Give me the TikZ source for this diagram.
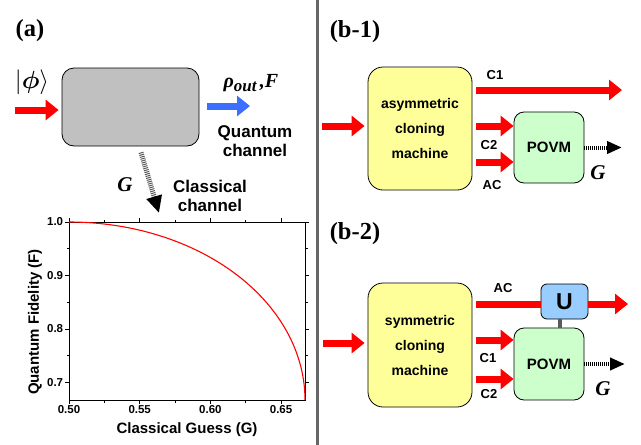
\documentclass[tikz,border=0pt]{standalone}
\usepackage{amsmath}
\usepackage{amssymb}
\usepackage{bm}
\usepackage{fontspec}
\setmainfont{Liberation Serif}
\setsansfont{Liberation Sans}
\usepackage{tikz}
\usetikzlibrary{arrows.meta}
\definecolor{boxGray}{RGB}{192,192,192}
\definecolor{cloneYellow}{RGB}{255,255,153}
\definecolor{povmGreen}{RGB}{204,255,204}
\definecolor{uBlue}{RGB}{153,204,255}
\definecolor{qBlue}{RGB}{60,110,255}
\tikzset{
    x=1pt, y=-1pt, % one unit is one pixel of the figure, y runs down
    styleBlock/.style={draw=black, line width=0.8pt, inner sep=0pt}, % every rounded box
    styleFat/.style={line width=7pt, -{Triangle[length=13pt,width=20pt]}}, % thick coloured arrows
    styleDots/.style={line width=4pt, dash pattern=on 1pt off 1pt, -{Triangle[length=15pt,width=12pt]}}, % classical output
    styleTitle/.style={inner sep=0pt, font=\fontsize{24.5}{26}\selectfont\bfseries}, % panel names
    styleLab/.style={inner sep=0pt, font=\fontsize{13}{15}\selectfont\sffamily\bfseries}, % C1, C2, AC
    styleGuess/.style={inner sep=0pt, font=\fontsize{21}{22}\selectfont\bfseries\itshape}, % G
}
\begin{document}
\begin{tikzpicture}[
        styleTick/.style={inner sep=1.5pt, font=\fontsize{11.5}{13}\selectfont\sffamily\bfseries},
        styleChannel/.style={inner sep=0pt, align=center, font=\fontsize{17}{19.5}\selectfont\sffamily\bfseries},
    ]
    \useasboundingbox (0,0) rectangle (641,445);

    % (a) channel
    \node[styleTitle] (labA) at (30,31) {(a)};
    \node[styleBlock, fill=boxGray, rounded corners=12pt, minimum width=137pt, minimum height=78pt] (channel) at (130.5,107) {};
    \node[inner sep=0pt, font=\fontsize{27}{30}\selectfont] (ket) at (32,82) {$|\bm{\phi}\rangle$};
    \coordinate (ketIn) at (15,110);
    \coordinate (qOut) at (250,106);
    \coordinate (gOut) at (159,213);
    \draw[styleFat, red] (ketIn) -- ([xshift=-3pt,yshift=-3pt]channel.west);
    \draw[styleFat, qBlue] ([xshift=8pt,yshift=1pt]channel.east) -- (qOut);
    \draw[line width=5pt, black!65, dash pattern=on 1pt off 1pt, -{Triangle[length=17pt,width=15pt,color=black]}] ([xshift=10.5pt,yshift=-6pt]channel.south) -- (gOut);
    \node[inner sep=0pt, font=\fontsize{20}{22}\selectfont\bfseries\itshape] (rho) at (251,83) {ρ\raisebox{-4pt}{\fontsize{17}{17}\selectfont out}\,,F};
    \node[styleChannel] (quant) at (255,141) {Quantum\\channel};
    \node[styleChannel] (class) at (210,196) {Classical\\channel};
    \node[styleGuess] (gA) at (125,185) {G};

    % (a) fidelity against guess
    \draw[line width=1pt] (69,222) rectangle (305,400);
    \foreach \g in {0.50,0.55,0.60,0.65} {
        \draw[line width=0.8pt] ({69+(\g-0.5)*1414},400) -- ++(0,4) node[styleTick, below] {\g};
        \draw[line width=0.8pt] ({69+(\g-0.5)*1414},222) -- ++(0,-4);
    }
    \foreach \g in {0.525,0.575,0.625} {
        \draw[line width=0.8pt] ({69+(\g-0.5)*1414},400) -- ++(0,2.5);
        \draw[line width=0.8pt] ({69+(\g-0.5)*1414},222) -- ++(0,-2.5);
    }
    \foreach \f in {1.0,0.9,0.8,0.7} {
        \draw[line width=0.8pt] (69,{222+(1-\f)*535}) -- ++(-4,0) node[styleTick, left] {\f};
        \draw[line width=0.8pt] (305,{222+(1-\f)*535}) -- ++(4,0);
    }
    \foreach \f in {0.95,0.85,0.75} {
        \draw[line width=0.8pt] (69,{222+(1-\f)*535}) -- ++(-2.5,0);
        \draw[line width=0.8pt] (305,{222+(1-\f)*535}) -- ++(2.5,0);
    }
    \draw[red, line width=1.1pt] plot[domain=0:90, samples=90] ({69+236*sin(\x)}, {400-178*cos(\x)});
    \node[inner sep=0pt, font=\fontsize{15}{17}\selectfont\sffamily\bfseries] (xlab) at (187,430) {Classical Guess (G)};
    \node[inner sep=0pt, rotate=90, font=\fontsize{15}{17}\selectfont\sffamily\bfseries] (ylab) at (35,322) {Quantum Fidelity (F)};

    % divider
    \draw[line width=3pt, black!60] (317,0) -- (317,445);

    % (b-1) asymmetric cloner
    \node[styleTitle] (labB1) at (355,32) {(b-1)};
    \node[styleBlock, fill=cloneYellow, rounded corners=15pt, minimum width=104pt, minimum height=123pt,
          align=center, font=\fontsize{14}{25}\selectfont\sffamily\bfseries] (acm) at (420,128.5) {asymmetric\\cloning\\machine};
    \node[styleBlock, fill=povmGreen, rounded corners=10pt, minimum width=70pt, minimum height=71pt,
          font=\fontsize{15}{17}\selectfont\sffamily\bfseries] (povmA) at (549,147.5) {POVM};
    \coordinate (inA) at (322,126);
    \coordinate (c1A) at (622,90);
    \coordinate (guessA) at (622,147.5);
    \draw[styleFat, red] (inA) -- ([xshift=-3pt,yshift=2.5pt]acm.west);
    \draw[styleFat, red] ([xshift=4pt]acm.east |- c1A) -- (c1A);
    \draw[styleFat, red] ([xshift=4pt,yshift=21.5pt]acm.east |- povmA.west) -- ([yshift=21.5pt]povmA.west);
    \draw[styleFat, red] ([xshift=4pt,yshift=-14.5pt]acm.east |- povmA.west) -- ([yshift=-14.5pt]povmA.west);
    \draw[styleDots] (povmA.east) -- (guessA);
    \node[styleLab] (c1LabA) at (495,75) {C1};
    \node[styleLab] (c2LabA) at (489,145) {C2};
    \node[styleLab] (acLabA) at (492,185) {AC};
    \node[styleGuess] (gB1) at (598,173) {G};

    % (b-2) symmetric cloner
    \node[styleTitle] (labB2) at (355,234) {(b-2)};
    \node[styleBlock, fill=cloneYellow, rounded corners=15pt, minimum width=104pt, minimum height=124pt,
          align=center, font=\fontsize{14}{25}\selectfont\sffamily\bfseries] (smc) at (420,345) {symmetric\\cloning\\machine};
    \node[styleBlock, fill=povmGreen, rounded corners=10pt, minimum width=70pt, minimum height=72pt,
          font=\fontsize{15}{17}\selectfont\sffamily\bfseries] (povmB) at (549,364) {POVM};
    \node[styleBlock, fill=uBlue, rounded corners=6pt, minimum width=47pt, minimum height=35pt,
          font=\fontsize{23}{25}\selectfont\sffamily\bfseries] (uBox) at (564.5,301.5) {U};
    \coordinate (inB) at (323,343);
    \coordinate (acOut) at (628,304);
    \coordinate (guessB) at (625,364);
    \draw[line width=4pt, black!65] ([xshift=-5pt]uBox.south) -- ([xshift=-5pt]uBox.south |- povmB.north);
    \draw[styleFat, red] (inB) -- ([xshift=-3pt,yshift=2pt]smc.west);
    \draw[line width=7pt, red] ([xshift=4pt,yshift=-2.5pt]smc.east |- uBox.west) -- ([yshift=-2.5pt]uBox.west);
    \draw[styleFat, red] ([yshift=-2.5pt]uBox.east) -- (acOut);
    \draw[styleFat, red] ([xshift=4pt,yshift=24pt]smc.east |- povmB.west) -- ([yshift=24pt]povmB.west);
    \draw[styleFat, red] ([xshift=4pt,yshift=-15pt]smc.east |- povmB.west) -- ([yshift=-15pt]povmB.west);
    \draw[styleDots] (povmB.east) -- (guessB);
    \node[styleLab] (acLabB) at (503,288) {AC};
    \node[styleLab] (c1LabB) at (488,358) {C1};
    \node[styleLab] (c2LabB) at (489,394) {C2};
    \node[styleGuess] (gB2) at (603,389) {G};
\end{tikzpicture}
\end{document}
